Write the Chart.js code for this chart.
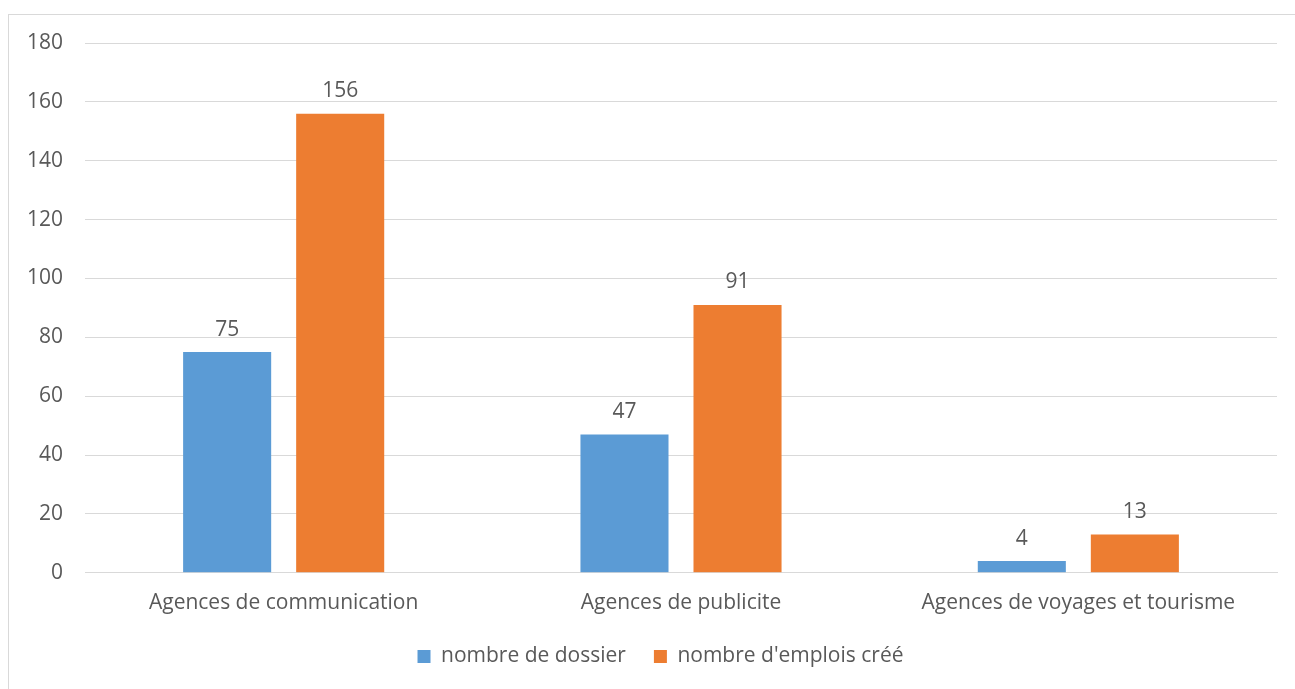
<!DOCTYPE html>
<html>
<head>
<meta charset="utf-8">
<script src="https://cdn.jsdelivr.net/npm/chart.js@4/dist/chart.umd.min.js"></script>
<style>
  html, body { margin: 0; padding: 0; background: #fff; overflow: hidden; }
  #frame { position: absolute; left: 8px; top: 14px; width: 1400px; height: 800px; border: 1px solid #d9d9d9; }
  #wrap { position: absolute; left: 0; top: 0; width: 1295px; height: 689px; }
</style>
</head>
<body>
<div id="frame"></div>
<div id="wrap"><canvas id="chart"></canvas></div>
<script>
// ── Data ─────────────────────────────────────────────────────────────────────
const categories = ["Agences de communication", "Agences de publicite", "Agences de voyages et tourisme"];
const dossiers   = [75, 47, 4];
const emplois    = [156, 91, 13];
const seriesNames = ["nombre de dossier", "nombre d'emplois créé"];

const C = { blue: "#5b9bd5", orange: "#ed7d31", text: "#595959", grid: "#d9d9d9" };
const FONT = "'Open Sans', 'Liberation Sans', sans-serif";

// ── Value labels above bars ──────────────────────────────────────────────────
const barLabels = {
    id: "barLabels",
    afterDatasetsDraw(chart) {
        const ctx = chart.ctx;
        ctx.save();
        ctx.fillStyle = C.text;
        ctx.font = "21px " + FONT;
        ctx.textAlign = "center";
        ctx.textBaseline = "bottom";
        chart.data.datasets.forEach((ds, i) => {
            chart.getDatasetMeta(i).data.forEach((bar, j) => {
                ctx.fillText(String(ds.data[j]), bar.x, bar.y - 12);
            });
        });
        ctx.restore();
    },
};

// nudge legend to the right a bit, like the original
const legendShift = {
    id: "legendShift",
    afterLayout(chart) {
        if (!chart.legend) return;
        chart.legend.left  += 22;
        chart.legend.right += 22;
    },
};

new Chart(document.getElementById("chart"), {
    type: "bar",
    data: {
        labels: categories,
        datasets: [
            { label: seriesNames[0], data: dossiers, backgroundColor: C.blue },
            { label: seriesNames[1], data: emplois,  backgroundColor: C.orange },
        ],
    },
    options: {
        responsive: true,
        maintainAspectRatio: false,
        animation: false,
        categoryPercentage: 0.569,
        barPercentage: 0.779,
        layout: { padding: { top: 43, right: 18, left: 0, bottom: 12 } },
        scales: {
            y: {
                min: 0,
                max: 180,
                ticks: { stepSize: 20, color: C.text, font: { family: FONT, size: 21 }, padding: 22 },
                grid: { color: C.grid, drawTicks: false, lineWidth: 1 },
                border: { display: false },
                afterFit: (s) => { s.width = 85; },
            },
            x: {
                ticks: { color: C.text, font: { family: FONT, size: 21 }, padding: 18 },
                grid: { display: false, drawTicks: false },
                border: { color: C.grid },
                afterFit: (s) => { s.height -= 16; },
            },
        },
        plugins: {
            legend: {
                position: "bottom",
                labels: { color: C.text, font: { family: FONT, size: 21 }, boxWidth: 13, boxHeight: 13, padding: 28 },
            },
            tooltip: { enabled: false },
        },
    },
    plugins: [barLabels, legendShift],
});
</script>
</body>
</html>
